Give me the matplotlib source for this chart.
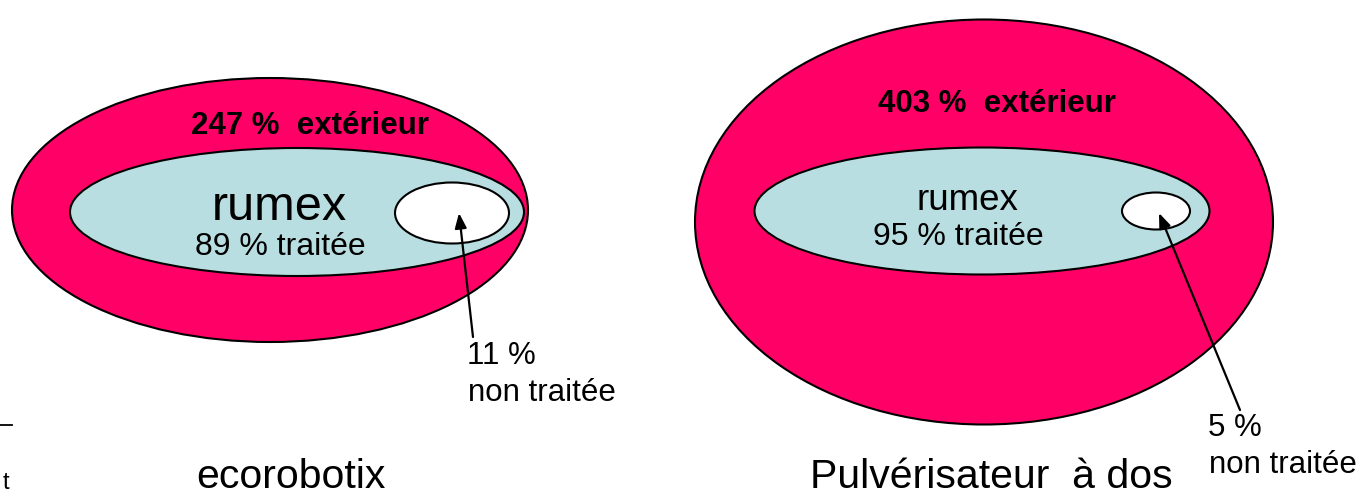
import matplotlib
matplotlib.use("Agg")
import matplotlib.pyplot as plt
from matplotlib.patches import Ellipse

plt.rcParams['font.family'] = ['Liberation Sans', 'DejaVu Sans']

# data
methods = ["ecorobotix", "Pulvérisateur  à dos"]
exterieur_pct = [247, 403]
traitee_pct = [89, 95]
non_traitee_pct = [11, 5]
inner_label = "rumex"

PINK = "#FF0066"
BLUE = "#B9DEE1"

fig = plt.figure(figsize=(13.71, 4.97), dpi=100)
ax = fig.add_axes([0, 0, 1, 1])
ax.set_xlim(0, 1371)
ax.set_ylim(497, 0)
ax.axis("off")

# layout per panel (pixel coordinates)
panels = [
    dict(outer=(270, 210, 516, 264), inner=(297, 212, 454, 128), hole=(452, 213, 114, 61),
         ext_xy=(310, 126), rumex_xy=(279, 208), rumex_fs=35, trt_xy=(280, 247),
         tip=(459, 213), tail=(473, 337), nt_xy=(467, 356), name_xy=(291, 477)),
    dict(outer=(984, 222, 578, 405), inner=(982, 211, 455, 127), hole=(1156, 211, 68, 37),
         ext_xy=(997, 104), rumex_xy=(967, 200), rumex_fs=26.5, trt_xy=(958, 237),
         tip=(1159, 213), tail=(1240, 410), nt_xy=(1208, 428), name_xy=(991, 477)),
]

for i, p in enumerate(panels):
    for (cx, cy, w, h), fc in ((p["outer"], PINK), (p["inner"], BLUE), (p["hole"], "white")):
        ax.add_patch(Ellipse((cx, cy), w, h, facecolor=fc, edgecolor="black", lw=1.5))
    ax.text(*p["ext_xy"], f"{exterieur_pct[i]} %  extérieur", fontsize=22.5, fontweight="bold",
            ha="center", va="center")
    ax.text(*p["rumex_xy"], inner_label, fontsize=p["rumex_fs"], ha="center", va="center")
    ax.text(*p["trt_xy"], f"{traitee_pct[i]} % traitée", fontsize=23, ha="center", va="center")
    ax.annotate("", xy=p["tip"], xytext=p["tail"],
                arrowprops=dict(arrowstyle="-|>,head_length=0.9,head_width=0.35",
                                color="black", lw=1.6, shrinkA=0, shrinkB=0))
    nx, ny = p["nt_xy"]
    ax.text(nx, ny, f"{non_traitee_pct[i]} %", fontsize=22.5, ha="left", va="center")
    ax.text(nx + 1, ny + 37, "non traitée", fontsize=22.5, ha="left", va="center")
    ax.text(*p["name_xy"], methods[i], fontsize=29.5, ha="center", va="center")

# small fragments at the left edge
ax.plot([0, 12], [425, 425], color="black", lw=1.3)
ax.text(3, 483, "t", fontsize=17, ha="left", va="center")

fig.savefig("out.png", dpi=100)
